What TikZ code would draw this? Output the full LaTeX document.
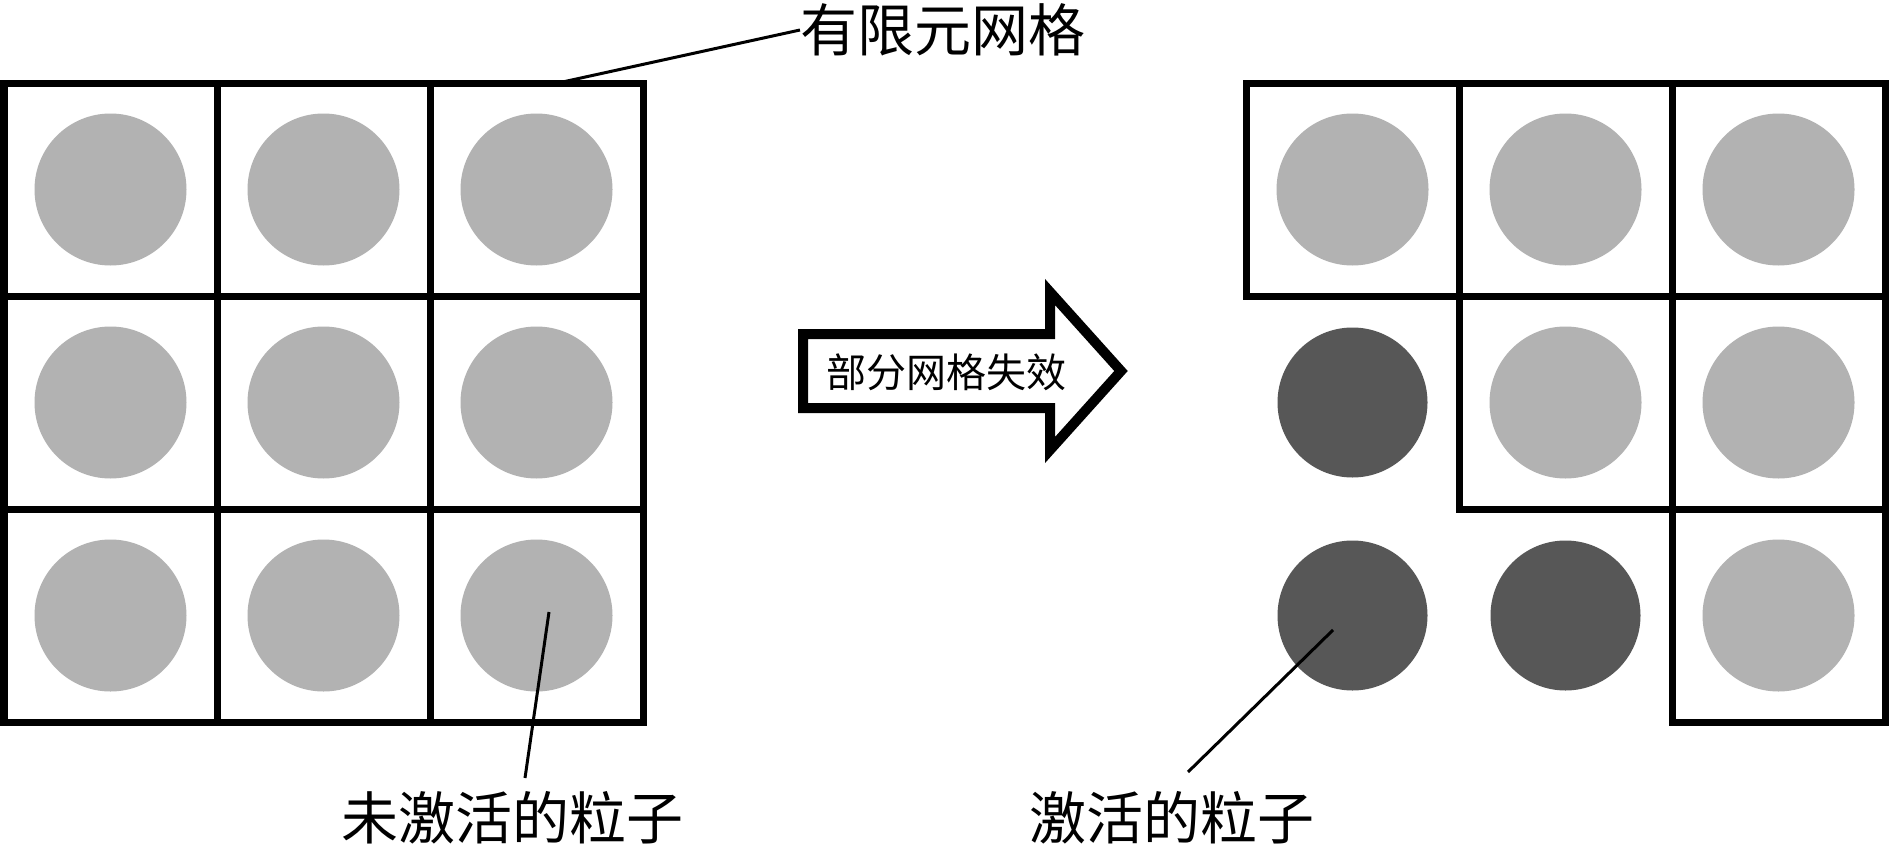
\documentclass[tikz,border=0pt]{standalone}
\usepackage{fontspec}
\newfontfamily\cjk{Noto Sans CJK SC}
\begin{document}
\begin{tikzpicture}[x=1pt,y=-1pt,
  cell/.style={draw, line width=7pt, minimum size=213pt, inner sep=0pt, outer sep=0pt},
  idle/.style={circle, fill=black!30, minimum size=152pt, inner sep=0pt},
  act/.style={circle, fill=black!66, minimum size=150pt, inner sep=0pt},
  lbl/.style={font=\cjk\fontsize{57}{60}\selectfont, inner sep=0pt},
  lead/.style={line width=3pt},
  bigarrow/.style={draw, line width=10pt, line join=miter, fill=white}]
\fill[white] (0,0) rectangle (1889,851);
\useasboundingbox (0,0) rectangle (1889,851);
% left grid: all cells intact
\foreach \r in {1,2,3}{
  \foreach \c in {1,2,3}{
    \node[idle] (pL\r\c) at ({4+213*(\c-0.5)},{83+213*(\r-0.5)}) {};
    \node[cell] (L\r\c) at ({4+213*(\c-0.5)},{83+213*(\r-0.5)}) {};
  }
}
% right grid: some cells failed
\foreach \r/\c in {1/1,1/2,1/3,2/2,2/3,3/3}{
  \node[idle] (pR\r\c) at ({1246+213*(\c-0.5)},{83+213*(\r-0.5)}) {};
  \node[cell] (R\r\c) at ({1246+213*(\c-0.5)},{83+213*(\r-0.5)}) {};
}
\foreach \r/\c in {2/1,3/1,3/2}{
  \node[act] (pR\r\c) at ({1246+213*(\c-0.5)},{83+213*(\r-0.5)}) {};
}
% transition arrow
\draw[bigarrow] (803,334) -- (1050,334) -- (1050,292) -- (1121,371) -- (1050,450) -- (1050,408) -- (803,408) -- cycle;
\node[font=\cjk\fontsize{40}{44}\selectfont, inner sep=0pt] (fail) at (946,372) {部分网格失效};
% labels
\node[lbl, anchor=west] (meshlbl) at (800,30) {有限元网格};
\node[lbl] (idlelbl) at (512,818) {未激活的粒子};
\node[lbl] (actlbl) at (1172,818) {激活的粒子};
% leaders
\coordinate (m1) at (558,83);
\draw[lead] (m1) -- (meshlbl.west);
\coordinate (i1) at (549,612);
\coordinate (i2) at (525,778);
\draw[lead] (i1) -- (i2);
\coordinate (a1) at (1333,630);
\coordinate (a2) at (1188,772);
\draw[lead] (a1) -- (a2);
\end{tikzpicture}
\end{document}
